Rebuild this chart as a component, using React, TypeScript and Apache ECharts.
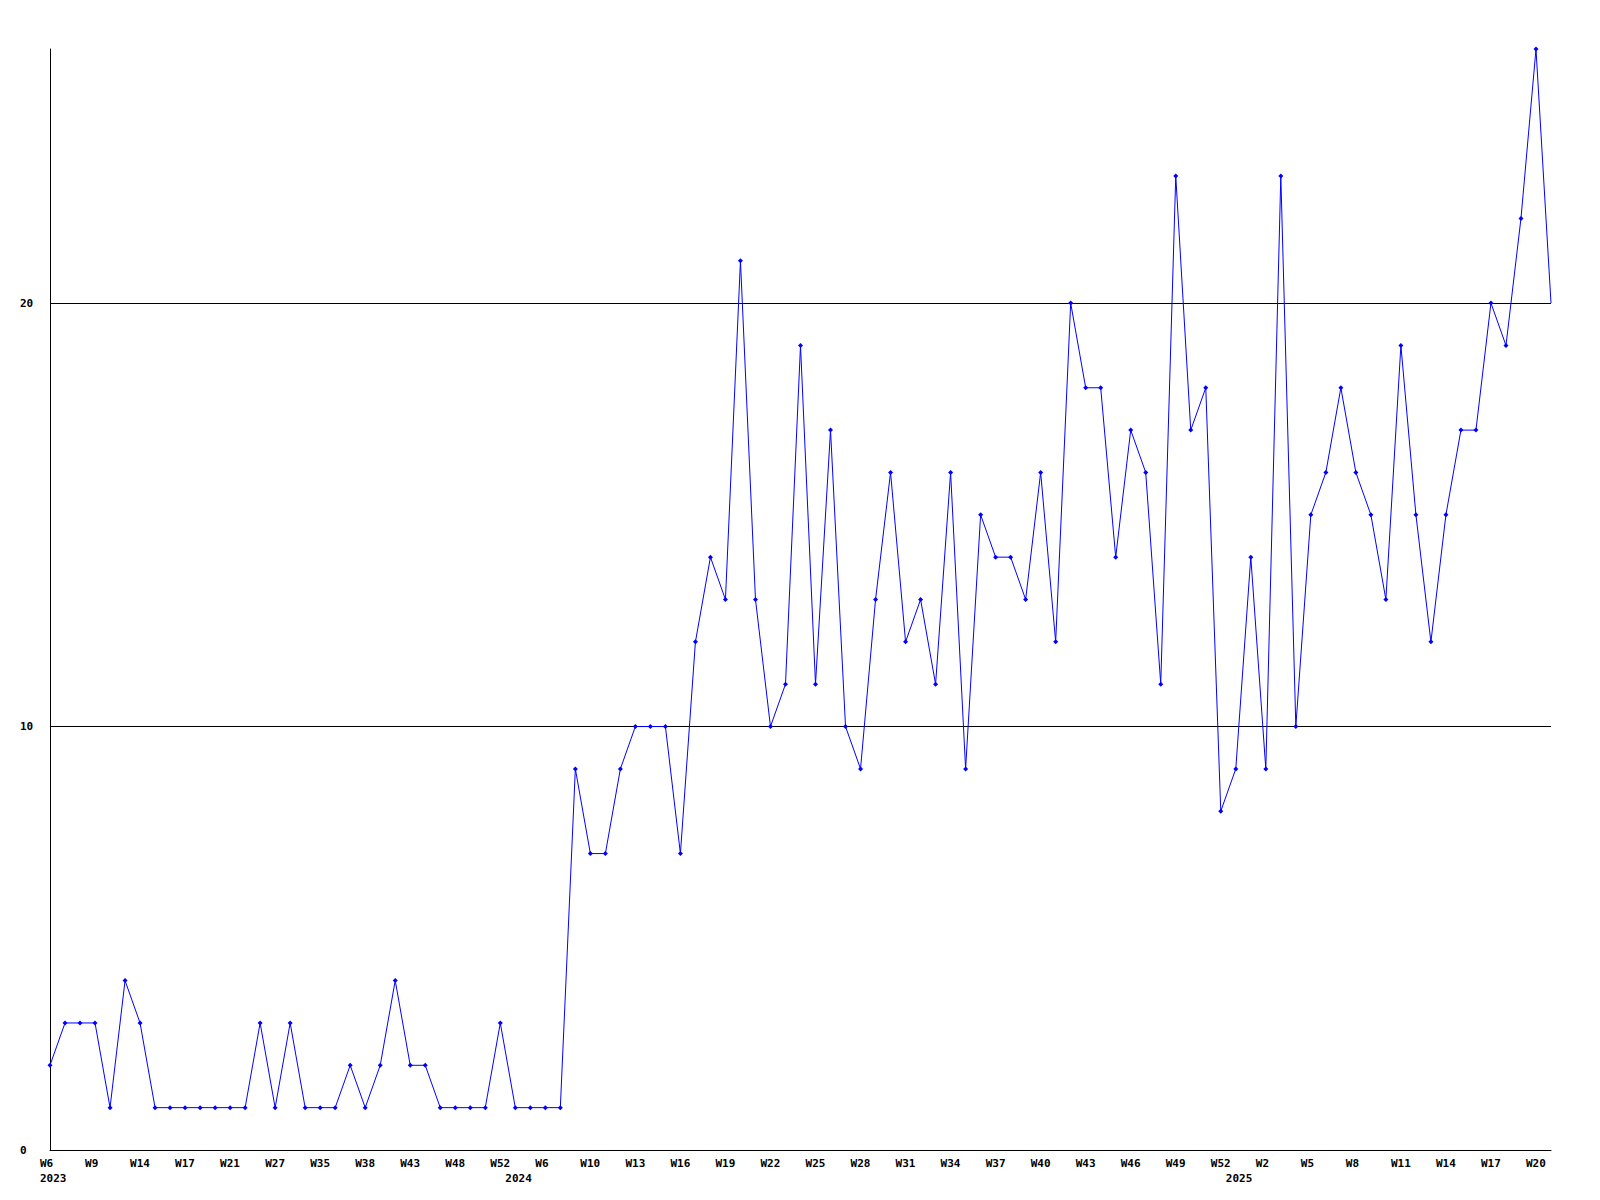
import React, { useEffect, useRef } from "react";
import * as echarts from "echarts";

const weeks: string[] = [
  "W6", "W7", "W8", "W9", "W10", "W12", "W14", "W15", "W16", "W17", "W18", "W20",
  "W21", "W23", "W25", "W27", "W29", "W33", "W35", "W36", "W37", "W38", "W40", "W42",
  "W43", "W45", "W46", "W48", "W49", "W51", "W52", "W1", "W3", "W6", "W8", "W9",
  "W10", "W11", "W12", "W13", "W14", "W15", "W16", "W17", "W18", "W19", "W20", "W21",
  "W22", "W23", "W24", "W25", "W26", "W27", "W28", "W29", "W30", "W31", "W32", "W33",
  "W34", "W35", "W36", "W37", "W38", "W39", "W40", "W41", "W42", "W43", "W44", "W45",
  "W46", "W47", "W48", "W49", "W50", "W51", "W52", "W0", "W1", "W2", "W3", "W4",
  "W5", "W6", "W7", "W8", "W9", "W10", "W11", "W12", "W13", "W14", "W15", "W16",
  "W17", "W18", "W19", "W20", "W21",
];

const yearStarts: { [index: number]: string } = { 0: "2023", 31: "2024", 79: "2025" };

const counts: number[] = [
  2, 3, 3, 3, 1, 4, 3, 1, 1, 1, 1, 1,
  1, 1, 3, 1, 3, 1, 1, 1, 2, 1, 2, 4,
  2, 2, 1, 1, 1, 1, 3, 1, 1, 1, 1, 9,
  7, 7, 9, 10, 10, 10, 7, 12, 14, 13, 21, 13,
  10, 11, 19, 11, 17, 10, 9, 13, 16, 12, 13, 11,
  16, 9, 15, 14, 14, 13, 16, 12, 20, 18, 18, 14,
  17, 16, 11, 23, 17, 18, 8, 9, 14, 9, 23, 10,
  15, 16, 18, 16, 15, 13, 19, 15, 12, 15, 17, 17,
  20, 19, 22, 26, 20,
];

const yTicks: number[] = [0, 10, 20];

const FONT = "DejaVu Sans Mono";

export default function App() {
  const ref = useRef<HTMLDivElement>(null);
  useEffect(() => {
    if (!ref.current) return;
    const chart = echarts.init(ref.current, undefined, { renderer: "svg" });
    const labelStyle = {
      fontFamily: FONT,
      fontWeight: "bold" as const,
      fontSize: 11,
      color: "#000",
    };
    chart.setOption({
      animation: false,
      backgroundColor: "#ffffff",
      grid: { left: 50, right: 49, top: 49, bottom: 50, containLabel: false },
      xAxis: [
        {
          type: "category",
          data: weeks,
          boundaryGap: false,
          axisLine: { show: true, lineStyle: { color: "#000", width: 1 } },
          axisTick: { show: false },
          splitLine: { show: false },
          axisLabel: {
            ...labelStyle,
            interval: 2,
            margin: 8,
            align: "center",
            formatter: (v: string) => "{a|" + v + "}",
            rich: { a: { ...labelStyle, width: 20, align: "left" } },
          },
        },
        {
          type: "category",
          data: weeks,
          boundaryGap: false,
          position: "bottom",
          offset: 15,
          axisLine: { show: false },
          axisTick: { show: false },
          splitLine: { show: false },
          axisLabel: {
            ...labelStyle,
            interval: 0,
            margin: 8,
            align: "center",
            formatter: (_v: string, idx: number) =>
              yearStarts[idx] ? "{a|" + yearStarts[idx] + "}" : "",
            rich: { a: { ...labelStyle, width: 20, align: "left" } },
          },
        },
      ],
      yAxis: {
        type: "value",
        min: 0,
        max: 26,
        interval: 10,
        axisLine: { show: true, lineStyle: { color: "#000", width: 1 } },
        axisTick: { show: false },
        splitLine: {
          show: true,
          showMinLine: false,
          showMaxLine: false,
          lineStyle: { color: "#000", width: 1 },
        },
        axisLabel: {
          ...labelStyle,
          margin: 30,
          align: "left",
          showMaxLabel: false,
          formatter: (v: number) => (yTicks.indexOf(v) >= 0 ? String(v) : ""),
        },
      },
      series: [
        {
          type: "line",
          xAxisIndex: 0,
          data: counts.map((v, i) =>
            i === counts.length - 1 ? { value: v, symbol: "none" } : v
          ),
          symbol: "diamond",
          symbolSize: 5,
          showSymbol: true,
          lineStyle: { color: "#0000ff", width: 1 },
          itemStyle: { color: "#0000ff" },
          clip: false,
        },
      ],
    });
    return () => chart.dispose();
  }, []);
  return (
    <div
      ref={ref}
      style={{ position: "fixed", left: 0, top: 0, width: 1600, height: 1200 }}
    />
  );
}
